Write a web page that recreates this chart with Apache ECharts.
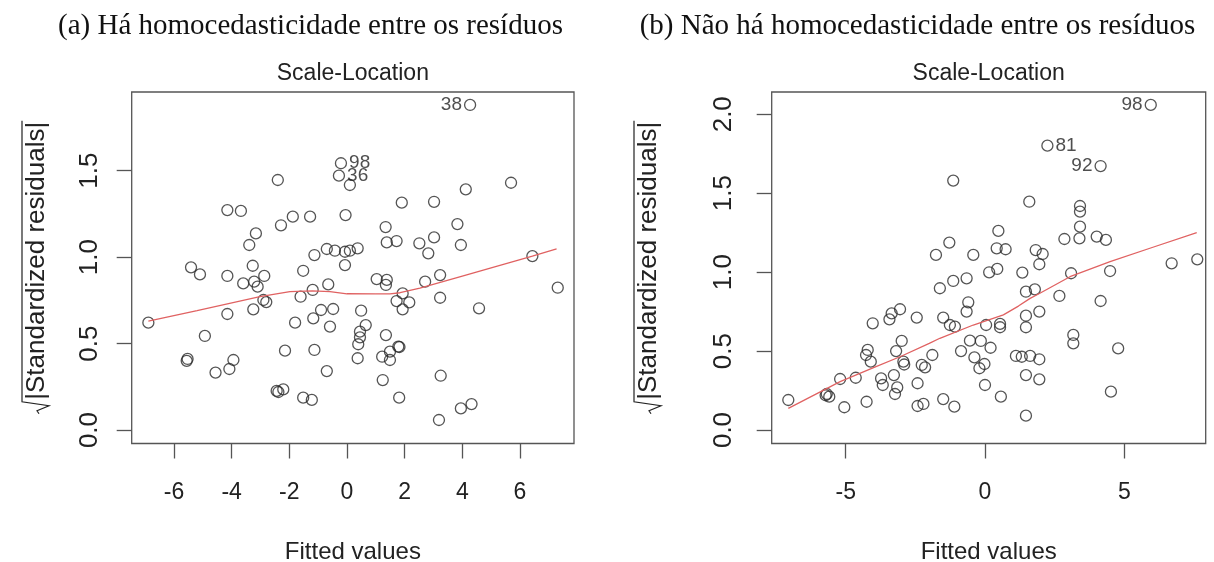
<!DOCTYPE html>
<html>
<head>
<meta charset="utf-8">
<script src="https://cdn.jsdelivr.net/npm/echarts@6/dist/echarts.min.js"></script>
<style>
html,body{margin:0;padding:0;background:#fff;}
#c{width:1214px;height:562px;}
</style>
</head>
<body>
<div id="c"></div>
<script>
// ---------------- DATA ----------------
const subtitleA = '(a) Há homocedasticidade entre os resíduos';
const subtitleB = '(b) Não há homocedasticidade entre os resíduos';
const plotTitle = 'Scale-Location';
const xTitle = 'Fitted values';
const yTitleText = '|Standardized residuals|';

const ticksAX = [-6, -4, -2, 0, 2, 4, 6];
const ticksAY = [0, 0.5, 1, 1.5];
const ticksBX = [-5, 0, 5];
const ticksBY = [0, 0.5, 1, 1.5, 2];

// Panel (a): fitted value, sqrt(|standardized residual|)
const pointsA = [
  [0.10,1.417],[-2.40,1.446],[-4.15,1.272],[-3.68,1.267],[1.90,1.315],[-0.05,1.243],[-1.28,1.234],
  [-1.88,1.234],[-2.29,1.184],[1.34,1.174],[-3.16,1.137],[-3.39,1.07],[1.38,1.085],[1.72,1.093],
  [2.51,1.08],[-1.13,1.012],[-0.70,1.047],[-0.42,1.037],[-0.07,1.031],[0.10,1.037],[0.37,1.051],
  [2.82,1.022],[-5.41,0.941],[-5.10,0.900],[-4.15,0.891],[-3.27,0.950],[-2.87,0.891],[-1.52,0.921],
  [-0.07,0.954],[-3.60,0.848],[-3.22,0.858],[-3.10,0.829],[-0.65,0.842],[-1.19,0.810],[-1.61,0.771],
  [-2.90,0.752],[-2.80,0.740],[1.03,0.873],[1.38,0.868],[1.35,0.839],[2.71,0.858],[1.93,0.790],
  [1.72,0.746],[2.16,0.738],[-4.15,0.671],[-3.25,0.698],[-6.89,0.621],[-1.80,0.621],[-1.17,0.646],
  [-0.90,0.694],[-0.48,0.700],[-0.59,0.598],[0.49,0.690],[0.65,0.607],[0.45,0.569],[0.45,0.536],
  [0.39,0.496],[0.37,0.415],[1.35,0.549],[1.93,0.698],[-4.93,0.544],[-5.53,0.411],[-5.56,0.400],
  [-3.94,0.405],[-4.08,0.353],[-4.56,0.332],[-2.15,0.459],[-1.13,0.463],[-0.70,0.341],[-2.44,0.226],
  [-2.21,0.235],[-2.38,0.220],[-1.52,0.187],[-1.22,0.174],[1.22,0.424],[1.49,0.453],[1.49,0.405],
  [1.78,0.482],[1.82,0.480],[1.24,0.289],[1.81,0.187],
  [5.69,1.430],[4.12,1.392],[3.02,1.320],[3.83,1.191],[3.02,1.114],[3.95,1.070],[6.43,1.006],
  [3.23,0.896],[7.31,0.823],[3.23,0.765],[4.58,0.704],[3.25,0.314],[3.95,0.125],[4.32,0.150],[3.19,0.058]
];
const labeledA = [[-0.21,1.543,'98'],[-0.28,1.471,'36'],[4.27,1.880,'38']];
const smoothA = [[-6.89,0.630],[-5.2,0.691],[-3.02,0.771],[-1.98,0.800],[-1.2,0.805],[-0.59,0.800],
  [0.0,0.788],[1.0,0.787],[1.49,0.787],[1.84,0.794],[2.53,0.820],[4.0,0.890],[5.0,0.938],[6.43,1.006],[7.27,1.047]];

// Panel (b)
const pointsB = [
  [-1.14,1.580],[1.59,1.446],[0.48,1.261],[-1.28,1.187],[0.42,1.151],[0.74,1.145],[-1.76,1.109],
  [-0.42,1.109],[1.82,1.140],
  [1.95,1.050],[1.34,0.997],[0.15,0.999],[0.44,1.020],[-1.14,0.944],[-0.66,0.961],[-1.62,0.898],
  [1.47,0.876],[1.79,0.891],[1.95,0.750],[-0.60,0.809],[-0.66,0.750],[-1.50,0.712],[-1.26,0.665],
  [-1.08,0.655],[0.04,0.665],[0.54,0.672],[0.54,0.651],[1.47,0.724],[1.47,0.651],[-2.45,0.712],
  [-3.05,0.765],[-3.35,0.739],[-3.43,0.701],[-4.03,0.676],[-2.99,0.564],[-1.89,0.475],[-0.86,0.500],
  [-0.54,0.566],[-0.15,0.564],[0.20,0.521],[-0.38,0.460],[-0.02,0.418],[-0.20,0.391],[0.00,0.285],
  [0.57,0.211],[1.11,0.469],[1.32,0.464],[1.62,0.469],[1.95,0.448],[1.47,0.348],[1.95,0.321],
  [1.47,0.091],[-4.21,0.507],[-4.27,0.475],[-4.10,0.433],[-3.19,0.500],[-2.93,0.433],[-2.90,0.415],
  [-2.27,0.412],[-2.15,0.397],[-3.27,0.348],[-3.73,0.327],[-3.67,0.285],[-3.15,0.270],[-3.23,0.228],
  [-2.42,0.296],[-4.64,0.331],[-5.20,0.323],[-5.68,0.228],[-5.59,0.211],[-5.72,0.220],[-5.05,0.144],
  [-4.25,0.179],[-7.06,0.190],[-2.42,0.152],[-2.21,0.165],[-1.50,0.196],[-1.10,0.148],
  [3.41,1.419],[3.41,1.383],[3.41,1.288],[2.85,1.210],[3.39,1.214],[4.01,1.225],[4.34,1.204],
  [2.07,1.115],[6.70,1.056],[7.62,1.081],[4.49,1.007],[3.09,0.993],[2.67,0.849],[4.15,0.817],
  [3.17,0.602],[3.17,0.549],[4.78,0.517],[4.52,0.243]
];
const labeledB = [[5.95,2.059,'98'],[2.24,1.801,'81'],[4.15,1.672,'92']];
const smoothB = [[-7.06,0.137],[-6.0,0.234],[-5.2,0.306],[-4.0,0.395],[-3.05,0.464],[-2.0,0.549],
  [-1.62,0.581],[-0.42,0.665],[0.66,0.729],[1.2,0.785],[1.62,0.834],[1.97,0.866],[3.05,0.971],
  [4.49,1.066],[6.0,1.156],[7.6,1.250]];

// ---------------- LAYOUT / STYLE ----------------
const SANS = '"Liberation Sans", Arial, sans-serif';
const SERIF = '"Liberation Serif", "Times New Roman", serif';
const INK = '#222';
const BOX = '#555';
const RED = '#E06262';
const YFS = 26;   // vertical-axis text size
const labelSide = { A: { '98': 'right', '36': 'right', '38': 'left' },
                    B: { '98': 'left', '81': 'right', '92': 'left' } };

const panels = [
  { grid: { left: 131.7, top: 92, width: 442.3, height: 351.5 },
    xMin: -7.468, xMax: 7.874, yMin: -0.078, yMax: 1.955,
    tx: ticksAX, ty: ticksAY, yLabelMargin: 29, key: 'A',
    pts: pointsA, lab: labeledA, sm: smoothA,
    sub: subtitleA, subX: 310.5, yTitleX: 37 },
  { grid: { left: 771.7, top: 92, width: 434, height: 351.5 },
    xMin: -7.656, xMax: 7.922, yMin: -0.0855, yMax: 2.141,
    tx: ticksBX, ty: ticksBY, yLabelMargin: 35, key: 'B',
    pts: pointsB, lab: labeledB, sm: smoothB,
    sub: subtitleB, subX: 917.5, yTitleX: 649 }
];

const chart = echarts.init(document.getElementById('c'), null, { renderer: 'canvas' });

const grids = [], xAxes = [], yAxes = [], series = [], graphics = [];

const mctx = document.createElement('canvas').getContext('2d');
mctx.font = YFS + 'px ' + SANS;
const yTitleW = mctx.measureText(yTitleText).width;

panels.forEach((p, i) => {
  grids.push(Object.assign({ show: true, borderColor: BOX, borderWidth: 1.3, backgroundColor: 'transparent',
                             containLabel: false, outerBoundsMode: 'none' }, p.grid));
  xAxes.push({
    type: 'value', gridIndex: i, min: p.xMin, max: p.xMax, position: 'bottom',
    axisLine: { show: false, onZero: false }, splitLine: { show: false },
    axisTick: { show: true, length: 15, customValues: p.tx, lineStyle: { color: BOX, width: 1.3 } },
    axisLabel: { customValues: p.tx, fontSize: 23, fontFamily: SANS, color: INK, margin: 38,
                 formatter: v => String(Math.round(v)) },
    name: xTitle, nameLocation: 'middle', nameGap: 97,
    nameTextStyle: { fontSize: 24, fontFamily: SANS, color: INK }
  });
  yAxes.push({
    type: 'value', gridIndex: i, min: p.yMin, max: p.yMax, position: 'left',
    axisLine: { show: false, onZero: false }, splitLine: { show: false },
    axisTick: { show: true, length: 15, customValues: p.ty, lineStyle: { color: BOX, width: 1.3 } },
    axisLabel: { customValues: p.ty, fontSize: YFS, fontFamily: SANS, color: INK, rotate: 90,
                 margin: p.yLabelMargin, formatter: v => v.toFixed(1) }
  });
  series.push({
    type: 'scatter', xAxisIndex: i, yAxisIndex: i, data: p.pts, silent: true, z: 3,
    symbol: 'circle', symbolSize: 11,
    itemStyle: { color: 'rgba(0,0,0,0)', borderColor: '#2a2a2a', borderWidth: 1.3 }
  });
  series.push({
    type: 'scatter', xAxisIndex: i, yAxisIndex: i, silent: true, z: 3,
    symbol: 'circle', symbolSize: 11,
    itemStyle: { color: 'rgba(0,0,0,0)', borderColor: '#2a2a2a', borderWidth: 1.3 },
    data: p.lab.map(d => ({ name: d[2], value: [d[0], d[1]],
      label: { show: true, position: labelSide[p.key][d[2]] } })),
    label: { show: true, formatter: '{b}', fontSize: 19, fontFamily: SANS, color: INK, distance: 2 }
  });
  series.push({
    type: 'line', xAxisIndex: i, yAxisIndex: i, data: p.sm, silent: true, z: 4,
    showSymbol: false, symbol: 'none', smooth: false,
    lineStyle: { color: RED, width: 1.3 }
  });

  const cx = p.grid.left + p.grid.width / 2;
  const cy = p.grid.top + p.grid.height / 2;
  graphics.push({ type: 'text', x: p.subX, y: 26, silent: true,
    style: { text: p.sub, font: '29px ' + SERIF, fill: '#111', align: 'center', verticalAlign: 'middle',
             textAlign: 'center', textVerticalAlign: 'middle' } });
  graphics.push({ type: 'text', x: cx, y: 73.5, silent: true,
    style: { text: plotTitle, font: '23px ' + SANS, fill: INK, align: 'center', verticalAlign: 'middle',
             textAlign: 'center', textVerticalAlign: 'middle' } });
  const R = 14;
  const total = R + yTitleW;
  const tx0 = -total / 2 + R;
  graphics.push({ type: 'group', x: p.yTitleX, y: cy, rotation: Math.PI / 2, silent: true,
    children: [
      { type: 'text', x: tx0, y: 0,
        style: { text: yTitleText, font: YFS + 'px ' + SANS, fill: INK, align: 'left', verticalAlign: 'middle',
                 textAlign: 'left', textVerticalAlign: 'middle' } },
      { type: 'polyline',
        shape: { points: [[tx0 - R, 2], [tx0 - R + 3, 0], [tx0 - R + 8, 12], [tx0 - 2, -15], [tx0 + yTitleW + 1, -15]] },
        style: { stroke: INK, lineWidth: 1.2, fill: null } }
    ] });
});

chart.setOption({
  animation: false,
  backgroundColor: '#fff',
  grid: grids, xAxis: xAxes, yAxis: yAxes, series: series, graphic: graphics
});
</script>
</body>
</html>
